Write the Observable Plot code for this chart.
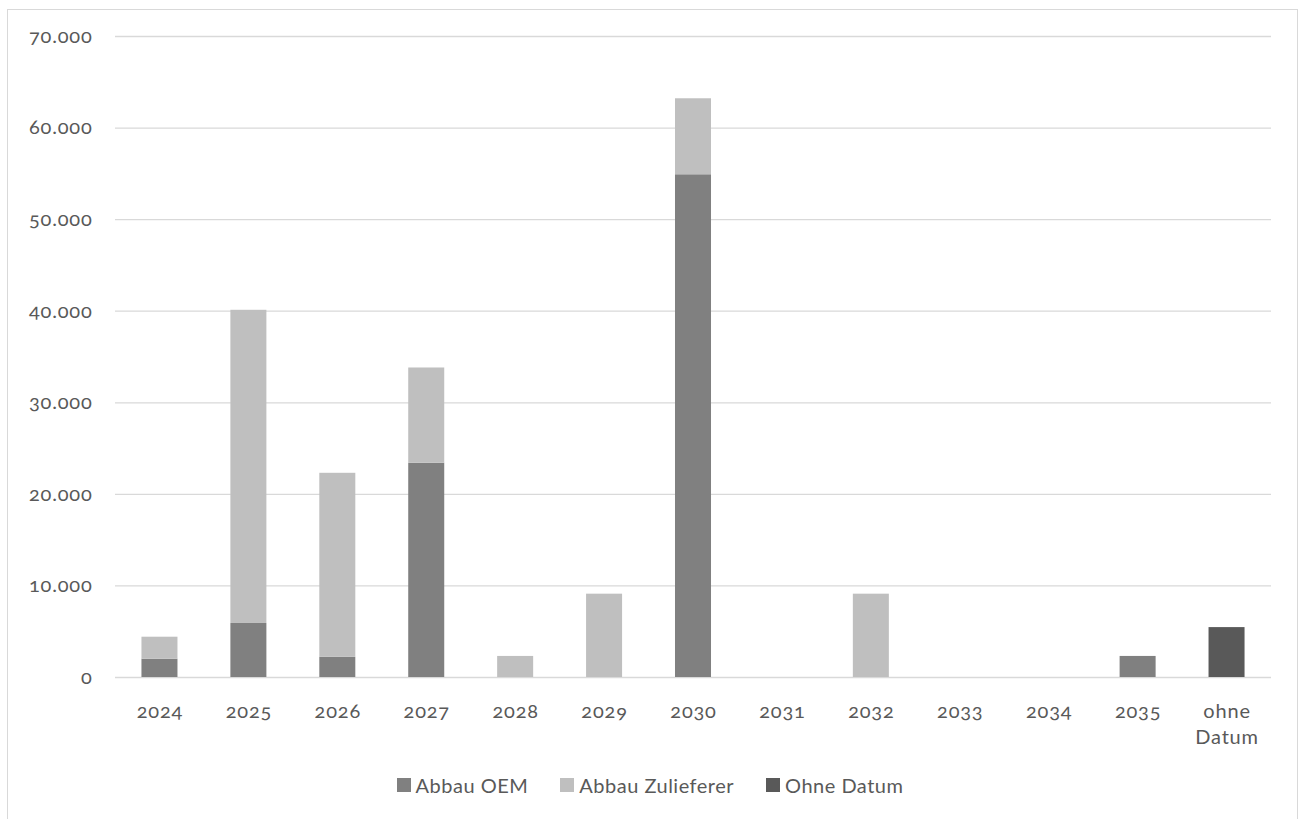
<!DOCTYPE html>
<html>
<head>
<meta charset="utf-8">
<script src="https://cdn.jsdelivr.net/npm/d3@7"></script>
<script src="https://cdn.jsdelivr.net/npm/@observablehq/plot@0.6"></script>
<style>
  html, body { margin: 0; padding: 0; background: #fff; }
  body { width: 1300px; height: 819px; overflow: hidden; position: relative; font-family: Lato, "Open Sans", sans-serif; }
  #frame { position: absolute; left: 7px; top: 9px; width: 1291px; height: 840px; border: 1.5px solid #d9d9d9; box-sizing: border-box; }
  #chart { position: absolute; left: 0; top: 0; }
  #chart svg text { font-variant-numeric: oldstyle-nums; letter-spacing: 0.8px; }
  #legend { position: absolute; left: 0; top: 772px; width: 1300px; display: flex; justify-content: center; gap: 32px; font-size: 20px; color: #595959; line-height: 26px; letter-spacing: 0.5px; }
  .item { display: flex; align-items: center; gap: 5px; }
  .sw { width: 14px; height: 14px; display: inline-block; }
</style>
</head>
<body>
<div id="frame"></div>
<div id="chart"></div>
<div id="legend"></div>
<script>
const categories = ["2024","2025","2026","2027","2028","2029","2030","2031","2032","2033","2034","2035","ohne Datum"];
const seriesNames = ["Abbau OEM", "Abbau Zulieferer", "Ohne Datum"];
const seriesColors = ["#808080", "#bfbfbf", "#595959"];
const abbauOEM =        [2000,  5900,  2200, 23400,    0,    0, 54900, 0,    0, 0, 0, 2300,    0];
const abbauZulieferer = [2400, 34200, 20100, 10400, 2300, 9100,  8300, 0, 9100, 0, 0,    0,    0];
const ohneDatum =       [   0,     0,     0,     0,    0,    0,     0, 0,    0, 0, 0,    0, 5450];
const yTicks = [0, 10000, 20000, 30000, 40000, 50000, 60000, 70000];

const seriesValues = [abbauOEM, abbauZulieferer, ohneDatum];
const data = [];
seriesNames.forEach((s, si) => {
  categories.forEach((c, ci) => data.push({category: c, series: s, value: seriesValues[si][ci]}));
});

const de = d3.formatLocale({decimal: ",", thousands: ".", grouping: [3], currency: ["", " €"]});
const fmt = de.format(",");

const plot = Plot.plot({
  width: 1300,
  height: 760,
  marginTop: 36,
  marginBottom: 83,
  marginLeft: 115,
  marginRight: 29,
  style: {fontFamily: "Lato, 'Open Sans', sans-serif", fontSize: "20px", color: "#595959", background: "transparent"},
  x: {domain: categories, paddingInner: 0.595, paddingOuter: 0.2975, round: false, label: null},
  y: {domain: [0, 70000], label: null},
  color: {domain: seriesNames, range: seriesColors},
  marks: [
    Plot.gridY(yTicks, {stroke: "#d9d9d9", strokeOpacity: 1, strokeWidth: 1.3}),
    Plot.barY(data, {x: "category", y: "value", fill: "series", order: seriesNames}),
    Plot.axisY(yTicks, {tickSize: 0, tickPadding: 23, tickFormat: fmt, fill: "#595959", fontSize: 20, label: null}),
    Plot.axisX({tickSize: 0, tickPadding: 22, fill: "#595959", fontSize: 20, lineHeight: 1.3, label: null, tickFormat: d => d === "ohne Datum" ? "ohne\nDatum" : d})
  ]
});
document.getElementById("chart").appendChild(plot);

const legend = document.getElementById("legend");
seriesNames.forEach((s, i) => {
  const item = document.createElement("div");
  item.className = "item";
  const sw = document.createElement("span");
  sw.className = "sw";
  sw.style.background = seriesColors[i];
  const t = document.createElement("span");
  t.textContent = s;
  item.appendChild(sw);
  item.appendChild(t);
  legend.appendChild(item);
});
</script>
</body>
</html>
